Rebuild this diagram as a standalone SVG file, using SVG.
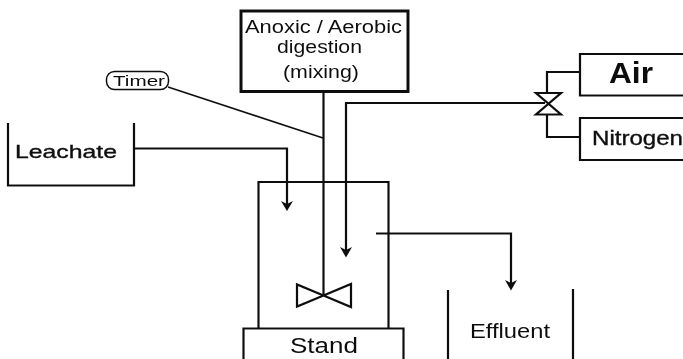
<svg xmlns="http://www.w3.org/2000/svg" width="683" height="359" viewBox="0 0 683 359">
<style>
.l{fill:none;stroke:#111;stroke-width:2.200}
.thin{stroke-width:1.600}
.h{fill:#111}
.t{font-family:"Liberation Sans",Arial,sans-serif;fill:#111}
.b{stroke:#111;stroke-width:.35}
</style>
<defs><filter id="soft" filterUnits="userSpaceOnUse" x="0" y="0" width="683" height="359"><feGaussianBlur stdDeviation="0.35"/></filter></defs>
<rect width="683" height="359" fill="#fff"/>
<g filter="url(#soft)">
<g id="connectors">
<path class="l" d="M323.500 92V295.500"/>
<path class="l thin" d="M168 87L323 138"/>
<path class="l" d="M133 148.500H287V206"/>
<path class="h" d="M281 201L287 211L293 201L287 204Z"/>
<path class="l" d="M545 103H346V252"/>
<path class="h" d="M340 247L346 257.500L352 247L346 250Z"/>
<path class="l" d="M376 233.500H511V285"/>
<path class="h" d="M505 280L511 290.500L517 280L511 283Z"/>
<path class="l" d="M580 72H547V92M547 115V137H580"/>
</g>
<g id="anoxic"><rect x="241" y="11" width="167" height="80.500" fill="#fff" stroke="#111" stroke-width="3"/>
<text class="t" x="245" y="33" font-size="17.500" textLength="157" lengthAdjust="spacingAndGlyphs">Anoxic / Aerobic</text>
<text class="t" x="277" y="53" font-size="17.500" textLength="85" lengthAdjust="spacingAndGlyphs">digestion</text>
<text class="t" x="283" y="78" font-size="17.500" textLength="76" lengthAdjust="spacingAndGlyphs">(mixing)</text></g>
<g id="timer"><rect x="106.500" y="71.500" width="62" height="18" rx="8" fill="#fff" stroke="#111" stroke-width="1.500"/>
<text class="t" x="113" y="86" font-size="14.500" textLength="52" lengthAdjust="spacingAndGlyphs">Timer</text></g>
<g id="leachate"><path class="l" d="M8 123V185.500H134V123"/>
<text class="t b" x="15" y="158" font-size="18.500" textLength="102" lengthAdjust="spacingAndGlyphs">Leachate</text></g>
<g id="air"><path class="l" d="M683 54H580V95.500H683"/>
<text class="t" x="609" y="83" font-size="30" font-weight="bold" textLength="44" lengthAdjust="spacingAndGlyphs">Air</text></g>
<g id="nitrogen"><path class="l" d="M683 118H580V160H683"/>
<text class="t b" x="592" y="145" font-size="19.500" textLength="91" lengthAdjust="spacingAndGlyphs">Nitrogen</text></g>
<g id="valve"><path class="l" d="M536 93H561L536 114.500H561Z"/></g>
<g id="tank"><path class="l" d="M258.500 328V182H388.500V328"/></g>
<g id="impeller"><path class="l" d="M297 284.500V306.500L323.500 295.500L351 284V307L323.500 295.500Z"/></g>
<g id="stand"><path class="l" d="M243.500 359V328.500H403.500V359"/>
<text class="t" x="290" y="353" font-size="22" textLength="68" lengthAdjust="spacingAndGlyphs">Stand</text></g>
<g id="effluent"><path class="l" d="M448 290V359M573 289V359"/>
<text class="t" x="470" y="338" font-size="19.500" textLength="80" lengthAdjust="spacingAndGlyphs">Effluent</text></g>
</g>
</svg>
